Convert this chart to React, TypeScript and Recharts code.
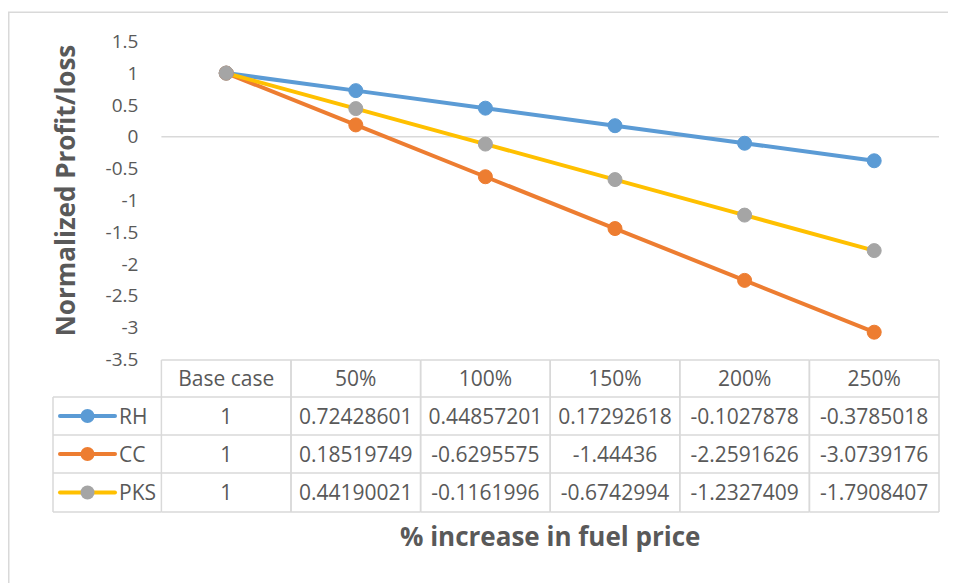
import React from 'react';
import { LineChart, Line, XAxis, YAxis, ReferenceLine, Customized } from 'recharts';

// ---- data ----
const CATEGORIES = ['Base case', '50%', '100%', '150%', '200%', '250%'];
const RH = [1, 0.72428601, 0.44857201, 0.17292618, -0.1027878, -0.3785018];
const CC = [1, 0.18519749, -0.6295575, -1.44436, -2.2591626, -3.0739176];
const PKS = [1, 0.44190021, -0.1161996, -0.6742994, -1.2327409, -1.7908407];
const Y_TICKS = [1.5, 1, 0.5, 0, -0.5, -1, -1.5, -2, -2.5, -3, -3.5];
const SERIES_NAMES = ['RH', 'CC', 'PKS'];
const SERIES_VALUES = [RH, CC, PKS];
const X_TITLE = '% increase in fuel price';
const Y_TITLE = 'Normalized Profit/loss';

// ---- styles / layout ----
const LINE_COLORS = ['#5B9BD5', '#ED7D31', '#FFC000'];
const DOT_COLORS = ['#5B9BD5', '#ED7D31', '#A5A5A5'];
const TEXT = '#595959';
const GRID = '#d9d9d9';
const W = 940;
const H = 575;
const PLOT_LEFT = 153.4;
const PLOT_RIGHT = 931;
const PLOT_TOP = 33.3;
const PLOT_BOTTOM = 351.3;
const BAND = (PLOT_RIGHT - PLOT_LEFT) / CATEGORIES.length;
const ROW_EDGES = [352, 389, 427, 465, 504];
const LEGEND_LEFT = 45;
const TABLE_FONT = 21;

const data = CATEGORIES.map((c, i) => ({
  name: c,
  RH: RH[i],
  CC: CC[i],
  PKS: PKS[i],
}));

const rowText = (r: number) => (ROW_EDGES[r] + ROW_EDGES[r + 1]) / 2 + TABLE_FONT * 0.36;

function TableTick(props: any) {
  const { x, payload } = props;
  const idx = typeof props.index === 'number' ? props.index : CATEGORIES.indexOf(payload.value);
  const left = x - BAND / 2;
  const right = x + BAND / 2;
  const top = ROW_EDGES[0];
  const bottom = ROW_EDGES[ROW_EDGES.length - 1];
  return (
    <g>
      {ROW_EDGES.map((ry, k) => (
        <line key={'h' + k} x1={left} x2={right} y1={ry} y2={ry} stroke={GRID} strokeWidth={1.5} />
      ))}
      <line x1={left} x2={left} y1={top} y2={bottom} stroke={GRID} strokeWidth={1.5} />
      <line x1={right} x2={right} y1={top} y2={bottom} stroke={GRID} strokeWidth={1.5} />
      <text x={x} y={rowText(0)} textAnchor="middle" fontSize={TABLE_FONT} fill={TEXT}>
        {CATEGORIES[idx]}
      </text>
      {SERIES_VALUES.map((vals, s) => (
        <text key={'v' + s} x={x} y={rowText(s + 1)} textAnchor="middle" fontSize={TABLE_FONT} fill={TEXT}>
          {String(vals[idx])}
        </text>
      ))}
      {idx === 0 && (
        <g>
          <line x1={LEGEND_LEFT} x2={LEGEND_LEFT} y1={ROW_EDGES[1]} y2={bottom} stroke={GRID} strokeWidth={1.5} />
          {ROW_EDGES.slice(1).map((ry, k) => (
            <line key={'lh' + k} x1={LEGEND_LEFT} x2={left} y1={ry} y2={ry} stroke={GRID} strokeWidth={1.5} />
          ))}
          {SERIES_NAMES.map((n, s) => {
            const cy = (ROW_EDGES[s + 1] + ROW_EDGES[s + 2]) / 2;
            return (
              <g key={'lg' + s}>
                <line x1={52} x2={107} y1={cy} y2={cy} stroke={LINE_COLORS[s]} strokeWidth={4} strokeLinecap="round" />
                <circle cx={79.5} cy={cy} r={7} fill={DOT_COLORS[s]} />
                <text x={111} y={rowText(s + 1)} fontSize={TABLE_FONT} fill={TEXT}>
                  {n}
                </text>
              </g>
            );
          })}
        </g>
      )}
    </g>
  );
}

function Decorations() {
  return (
    <g>
      <rect x={0.75} y={4.25} width={3000} height={3000} fill="none" stroke={GRID} strokeWidth={1.5} />
      <text
        x={(PLOT_LEFT + PLOT_RIGHT) / 2}
        y={538}
        textAnchor="middle"
        fontSize={26}
        fontWeight={700}
        fill={TEXT}
      >
        {X_TITLE}
      </text>
      <text
        transform="translate(67, 182.5) rotate(-90)"
        textAnchor="middle"
        fontSize={26}
        fontWeight={700}
        fill={TEXT}
      >
        {Y_TITLE}
      </text>
    </g>
  );
}

export default function App() {
  return (
    <div style={{ fontFamily: "'Open Sans', sans-serif", width: W, height: H }}>
      <LineChart
        width={W}
        height={H}
        data={data}
        margin={{ top: PLOT_TOP, right: W - PLOT_RIGHT, bottom: H - PLOT_BOTTOM - 1, left: 0 }}
      >
        <Customized component={Decorations} />
        <XAxis
          dataKey="name"
          scale="band"
          height={1}
          axisLine={false}
          tickLine={false}
          tickSize={0}
          tickMargin={0}
          interval={0}
          tick={<TableTick />}
        />
        <YAxis
          width={PLOT_LEFT}
          domain={[-3.5, 1.5]}
          ticks={Y_TICKS}
          axisLine={false}
          tickLine={false}
          tickSize={0}
          tickMargin={23}
          interval={0}
          tickFormatter={(v: number) => String(v)}
          tick={{ fontSize: 19, fill: TEXT }}
        />
        <ReferenceLine y={0} stroke={GRID} strokeWidth={1.5} />
        {SERIES_NAMES.map((n, s) => (
          <Line
            key={n}
            dataKey={n}
            stroke={LINE_COLORS[s]}
            strokeWidth={4}
            dot={{ r: 7, fill: DOT_COLORS[s], stroke: DOT_COLORS[s], strokeWidth: 1 }}
            activeDot={false}
            isAnimationActive={false}
          />
        ))}
      </LineChart>
    </div>
  );
}
